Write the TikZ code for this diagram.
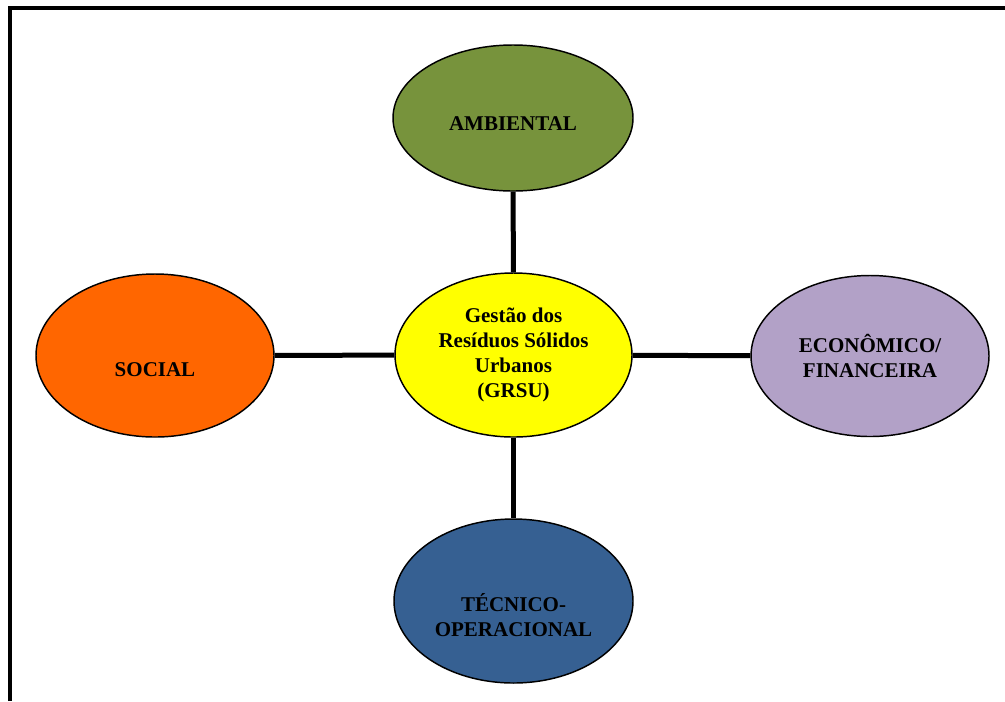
\documentclass[tikz,border=0pt]{standalone}
\usepackage{fontspec}
\setmainfont{Liberation Serif}
\usetikzlibrary{shapes.geometric}

\definecolor{ambgreen}{HTML}{77933C}
\definecolor{grsuyellow}{HTML}{FFFF00}
\definecolor{socorange}{HTML}{FF6600}
\definecolor{ecolilac}{HTML}{B2A1C7}
\definecolor{tecblue}{HTML}{366092}

\begin{document}
\begin{tikzpicture}[x=0.75pt, y=-0.75pt,
  bubble/.style={ellipse, draw=black, line width=1.1pt, inner sep=0pt,
    font=\fontsize{15.75}{18.75}\selectfont\bfseries, align=center},
  link/.style={line width=3.75pt}]
  \useasboundingbox (0,0) rectangle (1005,701);

  % open frame: left and top edges
  \draw[line width=3pt] (9.5,701) -- (9.5,8) -- (1005,8);

  % the five dimensions
  \node[bubble, fill=ambgreen, minimum width=240*0.75pt, minimum height=146*0.75pt,
        label={[yshift=-4pt, font=\fontsize{15.75}{18.75}\selectfont\bfseries]center:AMBIENTAL}]
        (amb) at (513,118) {};
  \node[bubble, fill=grsuyellow, minimum width=237*0.75pt, minimum height=164*0.75pt]
        (grsu) at (513.5,355) {Gestão dos\\Resíduos Sólidos\\Urbanos\\(GRSU)};
  \node[bubble, fill=socorange, minimum width=238*0.75pt, minimum height=163*0.75pt,
        label={[yshift=-10.5pt, font=\fontsize{15.75}{18.75}\selectfont\bfseries]center:SOCIAL}]
        (soc) at (155,355.5) {};
  \node[bubble, fill=ecolilac, minimum width=238*0.75pt, minimum height=161*0.75pt]
        (eco) at (870,356) {ECONÔMICO/\\FINANCEIRA};
  \node[bubble, fill=tecblue, minimum width=239*0.75pt, minimum height=164*0.75pt,
        label={[yshift=-10.5pt, align=center, font=\fontsize{15.75}{18.75}\selectfont\bfseries]center:TÉCNICO-\\OPERACIONAL}]
        (tec) at (513.5,601) {};

  % links to the centre
  \draw[link] (amb) -- (grsu);
  \draw[link] (soc) -- (grsu);
  \draw[link] (grsu) -- (eco);
  \draw[link] (grsu) -- (tec);
\end{tikzpicture}
\end{document}
